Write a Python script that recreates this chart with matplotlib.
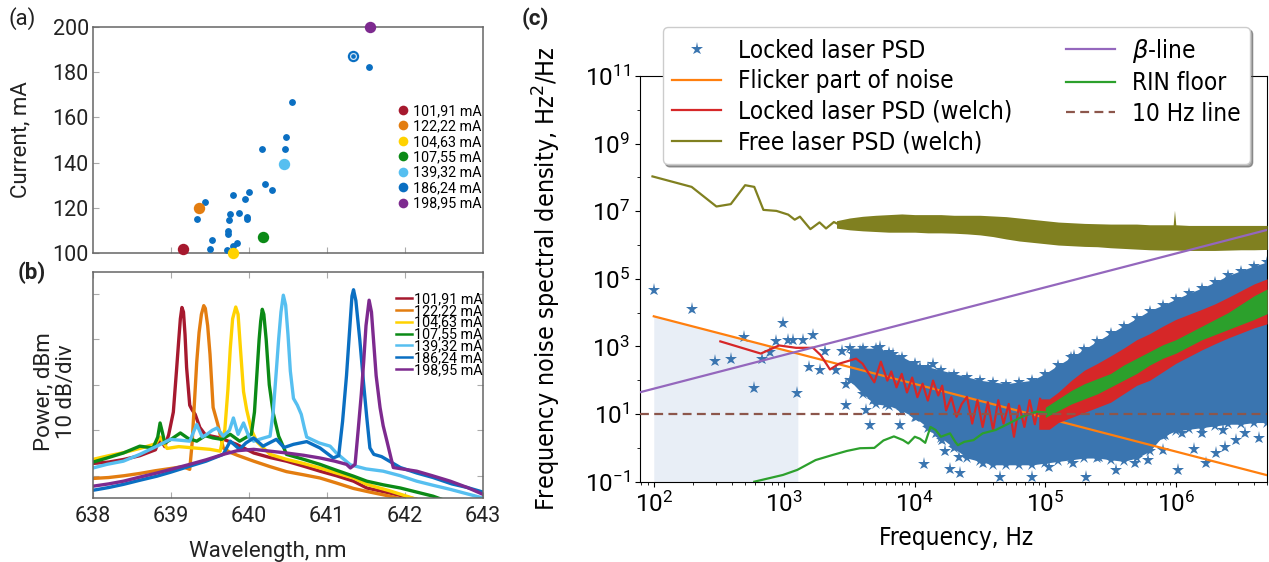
import numpy as np
import matplotlib
matplotlib.use("Agg")
import matplotlib.pyplot as plt

# ------------------------------------------------------------------ data (a)
labels = ['101,91 mA', '122,22 mA', '104,63 mA', '107,55 mA',
          '139,32 mA', '186,24 mA', '198,95 mA']
hl_wl = [639.15, 639.36, 639.80, 640.18, 640.45, 641.33, 641.55]
hl_I = [101.6, 119.9, 100.0, 107.3, 139.6, 187.2, 199.9]
small_wl = [641.54, 640.55, 640.47, 640.46, 640.17, 640.20, 640.29, 640.00,
            639.79, 639.95, 639.43, 639.33, 639.76, 639.87, 639.97, 639.97,
            639.74, 639.73, 639.73, 639.53, 639.84, 639.80, 639.50, 639.72]
small_I = [182.1, 166.7, 151.5, 146.0, 146.0, 130.5, 128.0, 126.8,
           125.7, 124.1, 122.5, 115.0, 117.4, 117.7, 116.1, 115.2,
           114.4, 109.8, 108.5, 105.7, 104.6, 103.0, 101.6, 101.3]

# ------------------------------------------------------------------ data (b)
red_wl = [638.00, 638.20, 638.40, 638.60, 638.80, 638.86, 638.92, 638.97, 639.03,
          639.07, 639.10, 639.12, 639.14, 639.16, 639.18, 639.20, 639.24, 639.27,
          639.31, 639.37, 639.44, 639.55, 639.63, 639.84, 640.06, 640.27, 640.48,
          640.70, 640.91, 641.12, 641.34, 641.51, 641.80, 642.15, 642.60, 643.00]
red_db = [-77.3, -77.0, -76.4, -75.6, -74.3, -71.8, -73.6, -71.0, -66.0,
          -57.0, -50.0, -45.5, -43.0, -44.0, -49.0, -56.2, -64.5, -65.5,
          -66.5, -69.4, -71.0, -71.4, -71.7, -73.1, -75.0, -76.0, -76.8,
          -77.9, -79.0, -80.0, -81.2, -82.7, -83.8, -85.2, -87.0, -88.0]
orange_wl = [638.00, 638.20, 638.40, 638.60, 638.80, 639.00, 639.15, 639.24, 639.27,
             639.30, 639.33, 639.36, 639.39, 639.42, 639.44, 639.47, 639.50, 639.54,
             639.60, 639.67, 639.75, 639.85, 640.06, 640.27, 640.48, 640.70, 640.91,
             641.12, 641.34, 641.55, 641.75, 642.00, 642.40, 643.00]
orange_db = [-80.6, -80.4, -80.0, -79.5, -78.9, -78.4, -78.0, -78.6, -73.0,
             -64.0, -55.0, -48.5, -44.5, -42.6, -43.2, -47.0, -53.3, -65.0,
             -68.7, -73.9, -74.8, -75.5, -76.8, -78.0, -79.1, -79.8, -80.5,
             -81.6, -82.8, -83.6, -84.3, -85.3, -87.0, -89.0]
yellow_wl = [638.00, 638.20, 638.40, 638.60, 638.80, 638.86, 638.95, 639.10, 639.30,
             639.50, 639.63, 639.69, 639.73, 639.76, 639.79, 639.83, 639.86, 639.89,
             639.93, 639.97, 640.03, 640.10, 640.27, 640.48, 640.70, 640.91, 641.12,
             641.34, 641.51, 641.80, 642.15, 642.60, 643.00]
yellow_db = [-76.4, -75.6, -74.9, -74.0, -73.0, -71.5, -74.0, -73.6, -73.9,
             -74.2, -74.6, -69.9, -61.0, -52.0, -45.5, -42.9, -44.5, -52.0,
             -61.5, -65.5, -69.9, -72.5, -75.3, -76.4, -77.3, -78.3, -79.4,
             -80.5, -81.9, -83.3, -85.2, -87.0, -88.5]
green_wl = [638.00, 638.18, 638.39, 638.60, 638.77, 638.83, 638.86, 638.89, 638.92,
            639.00, 639.12, 639.22, 639.33, 639.44, 639.54, 639.65, 639.76, 639.88,
            640.03, 640.07, 640.10, 640.13, 640.15, 640.17, 640.19, 640.22, 640.26,
            640.31, 640.38, 640.45, 640.48, 640.70, 640.91, 641.12, 641.34, 641.51,
            641.72, 641.94, 642.15, 642.36, 642.60, 643.00]
green_db = [-77.0, -76.1, -75.0, -73.5, -73.9, -71.5, -68.4, -70.5, -72.8,
            -72.0, -70.6, -71.8, -72.4, -71.2, -71.7, -72.0, -70.9, -72.4,
            -70.9, -66.0, -58.0, -50.0, -46.0, -43.4, -44.5, -50.0, -60.0,
            -66.2, -71.3, -74.0, -75.3, -76.4, -77.5, -78.8, -80.1, -81.2,
            -82.0, -82.7, -83.6, -84.5, -86.0, -88.0]
lblue_wl = [638.00, 638.18, 638.39, 638.60, 638.82, 638.99, 639.12, 639.24, 639.33,
            639.40, 639.46, 639.53, 639.59, 639.67, 639.75, 639.80, 639.86, 639.93,
            640.00, 640.06, 640.17, 640.27, 640.31, 640.35, 640.38, 640.41, 640.44,
            640.47, 640.50, 640.53, 640.57, 640.62, 640.67, 640.71, 640.74, 640.80,
            640.90, 641.04, 641.12, 641.30, 641.50, 641.72, 641.94, 642.15, 642.36,
            642.58, 642.80, 643.00]
lblue_db = [-78.3, -77.5, -76.8, -75.3, -73.5, -72.0, -72.2, -72.4, -68.7,
            -71.5, -70.9, -70.0, -69.5, -71.3, -70.0, -67.3, -70.9, -68.4,
            -71.5, -72.4, -71.8, -71.3, -66.0, -57.0, -50.0, -44.0, -40.3,
            -42.5, -49.0, -57.0, -63.0, -64.5, -66.5, -69.5, -71.5, -72.0,
            -72.8, -73.5, -75.0, -77.6, -78.5, -79.0, -80.0, -81.2, -82.1,
            -83.0, -84.0, -84.9]
blue_wl = [638.00, 638.20, 638.39, 638.60, 638.82, 639.00, 639.24, 639.45, 639.67,
           639.76, 639.88, 639.96, 640.06, 640.18, 640.35, 640.45, 640.57, 640.74,
           640.91, 641.08, 641.15, 641.20, 641.25, 641.29, 641.32, 641.34, 641.37,
           641.42, 641.47, 641.51, 641.55, 641.60, 641.70, 641.80, 641.94, 642.15,
           642.36, 642.60, 642.80, 643.00]
blue_db = [-83.2, -82.6, -81.9, -81.0, -80.1, -79.2, -77.9, -76.8, -75.3,
           -72.4, -74.2, -72.8, -71.7, -73.5, -72.0, -73.8, -73.1, -72.5,
           -73.9, -76.1, -75.6, -68.0, -58.0, -48.0, -40.5, -39.1, -41.5,
           -50.0, -59.9, -67.2, -73.9, -75.3, -75.8, -76.8, -78.2, -79.4,
           -80.4, -81.8, -82.6, -83.6]
purple_wl = [638.00, 638.20, 638.39, 638.60, 638.82, 639.00, 639.24, 639.45, 639.67,
             639.85, 640.06, 640.27, 640.48, 640.70, 640.91, 641.10, 641.25, 641.30,
             641.36, 641.40, 641.44, 641.47, 641.50, 641.54, 641.57, 641.60, 641.63,
             641.68, 641.72, 641.77, 641.85, 642.00, 642.15, 642.35, 642.58, 642.80,
             643.00]
purple_db = [-82.3, -81.8, -81.2, -80.3, -79.4, -78.6, -77.5, -76.5, -75.3,
             -74.5, -74.2, -74.6, -75.0, -75.5, -76.1, -76.8, -77.5, -78.3,
             -77.5, -69.9, -62.0, -55.0, -47.0, -41.4, -44.0, -51.0, -58.0,
             -65.0, -69.0, -72.5, -78.2, -78.6, -79.0, -80.0, -81.2, -82.6,
             -84.1]

# ------------------------------------------------------------------ data (c)  (log10 values)
star_logf = [2.00, 2.29, 2.47, 2.59, 2.69, 2.77, 2.83, 2.89, 2.94, 2.99, 3.03, 3.07,
             3.10, 3.14, 3.19, 3.22, 3.27, 3.31, 3.40, 3.44, 3.47, 3.47, 3.53, 3.58,
             3.63, 3.63, 3.66, 3.68, 3.68, 3.73, 3.73, 3.78, 3.78, 3.83, 3.83, 3.88,
             3.89, 3.91, 3.93, 3.96, 3.98, 4.01, 4.04, 4.06, 4.07, 4.09, 4.11, 4.14,
             4.16, 4.19, 4.21, 4.23, 4.26, 4.26, 4.27, 4.31, 4.34,
             4.35, 4.52, 4.65, 4.79, 4.90, 5.03, 5.21, 5.31, 5.41, 5.54, 5.69, 5.79,
             5.90, 6.02, 6.14, 6.23, 6.31, 6.38, 6.46, 6.53, 6.64, 6.05, 6.20, 5.92,
             6.36, 5.22]
star_logP = [4.68, 4.11, 2.57, 2.62, 3.28, 1.78, 2.62, 2.84, 3.16, 3.69, 3.20, 3.20,
             1.63, 3.20, 2.39, 3.33, 2.29, 2.88, 2.29, 2.88, 1.90, 1.28, 2.78, 2.88,
             2.78, 1.11, 0.67, 2.49, 1.41, 2.98, 1.60, 2.69, 1.31, 2.78, 1.51, 2.59,
             0.67, 1.21, 2.39, 1.41, 2.29, 0.92, 2.39, 1.11, -0.48, 2.20, 0.62, 2.49,
             0.43, 2.20, 0.23, -0.09, 2.10, 0.52, -0.63, 0.03, -0.26,
             -0.75, -0.46, -0.85, -0.36, -0.85, -0.56, -0.46, -0.85, -0.26, -0.66,
             -0.46, -0.36, -0.07, -0.66, -0.02, -0.46, -0.16, 0.03, 0.23, 0.43, 0.28,
             0.43, 0.43, 0.38, 0.53, 2.71]
cloud_logf = [3.5, 3.6, 3.7, 3.8, 3.9, 4.0, 4.1, 4.2, 4.3, 4.4, 4.5, 4.6, 4.7, 4.8,
              4.9, 5.0, 5.1, 5.2, 5.3, 5.4, 5.5, 5.6, 5.7, 5.8, 5.9, 6.0, 6.1, 6.2,
              6.3, 6.4, 6.5, 6.6, 6.7]
cloud_hi = [2.95, 2.95, 2.95, 2.85, 2.70, 2.50, 2.40, 2.30, 2.20, 2.10, 2.00, 1.95,
            1.90, 1.95, 2.00, 2.20, 2.45, 2.68, 2.92, 3.16, 3.39, 3.61, 3.83, 4.06,
            4.22, 4.40, 4.57, 4.73, 4.90, 5.10, 5.24, 5.38, 5.50]
cloud_lo = [2.00, 1.60, 1.30, 1.25, 1.10, 0.90, 0.60, 0.30, 0.00, -0.30, -0.40,
            -0.50, -0.50, -0.50, -0.50, -0.45, -0.40, -0.35, -0.30, -0.30, -0.35,
            -0.40, -0.30, -0.10, 0.35, 0.50, 0.55, 0.60, 0.65, 0.70, 0.70, 0.75, 0.75]

flicker_f = [1e2, 5e6]
flicker_P = [7.8e3, 0.156]
beta_f = [78, 5e6]
beta_P = [44, 2.8e6]
line10_f = [78, 5e6]
line10_P = [10, 10]
shade_f = [100, 1270]
shade_top = [7.8e3, 650]

welch_logf = [2.51, 2.82, 2.96, 3.09, 3.22, 3.28, 3.35, 3.42, 3.55, 3.60, 3.69, 3.74,
              3.79, 3.82, 3.86, 3.90, 3.94, 3.98, 4.02, 4.06, 4.10, 4.14, 4.18, 4.21,
              4.24, 4.28, 4.32, 4.36, 4.40, 4.44, 4.48, 4.52, 4.56, 4.60, 4.64, 4.68,
              4.72, 4.76, 4.80, 4.84, 4.88, 4.92, 4.96]
welch_logP = [3.15, 2.79, 3.03, 2.96, 2.96, 2.74, 2.32, 2.49, 2.64, 2.49, 1.94, 2.55,
              1.99, 2.26, 1.79, 2.19, 1.64, 2.08, 1.50, 1.90, 1.40, 1.99, 1.55, 1.84,
              1.11, 1.50, 0.92, 1.30, 1.51, 0.72, 1.41, 0.62, 1.35, 0.53, 1.41, 0.72,
              1.30, 0.33, 1.25, 0.62, 1.41, 0.70, 1.45]
welch_band_logf = [4.95, 5.03, 5.1, 5.2, 5.3, 5.4, 5.5, 5.6, 5.7, 5.8, 5.9, 6.0, 6.1,
                   6.2, 6.3, 6.4, 6.5, 6.6, 6.7]
welch_band_hi = [1.45, 1.45, 1.65, 2.00, 2.30, 2.50, 2.72, 2.95, 3.20, 3.38, 3.60,
                 3.80, 3.95, 4.10, 4.26, 4.45, 4.65, 4.85, 5.00]
welch_band_lo = [0.55, 0.55, 0.75, 0.90, 1.05, 1.20, 1.35, 1.60, 1.85, 2.00, 2.25,
                 2.50, 2.70, 2.90, 3.08, 3.25, 3.40, 3.55, 3.67]

rin_logf = [2.77, 2.99, 3.10, 3.24, 3.37, 3.48, 3.58, 3.69, 3.76, 3.84, 3.91, 3.95,
            4.00, 4.04, 4.08, 4.12, 4.16, 4.20, 4.27, 4.31, 4.33, 4.38, 4.45, 4.52,
            4.62, 4.72, 4.82, 4.93, 5.00]
rin_logP = [-1.00, -0.80, -0.65, -0.36, -0.21, -0.09, -0.01, 0.00, 0.22, 0.34, 0.23,
            0.13, 0.33, 0.27, 0.15, 0.62, 0.53, 0.33, 0.43, 0.18, 0.08, 0.18, 0.23,
            0.43, 0.53, 0.72, 0.92, 1.07, 1.05]
rin_band_logf = [5.0, 5.1, 5.2, 5.3, 5.4, 5.5, 5.6, 5.7, 5.8, 5.9, 6.0, 6.1, 6.2, 6.3,
                 6.4, 6.5, 6.6, 6.7]
rin_band_hi = [1.20, 1.45, 1.70, 1.90, 2.05, 2.20, 2.45, 2.65, 2.85, 3.05, 3.20, 3.40,
               3.60, 3.80, 4.00, 4.25, 4.50, 4.70]
rin_band_lo = [0.90, 1.10, 1.30, 1.45, 1.60, 1.80, 2.00, 2.20, 2.45, 2.65, 2.80, 3.00,
               3.20, 3.35, 3.50, 3.65, 3.80, 3.97]

free_logf = [1.99, 2.29, 2.48, 2.59, 2.70, 2.77, 2.84, 2.94, 3.03, 3.08, 3.12, 3.20,
             3.27, 3.32, 3.38, 3.45, 3.50]
free_logP = [8.03, 7.72, 7.14, 7.21, 7.77, 7.72, 7.04, 7.01, 6.90, 6.75, 6.84, 6.47,
             6.67, 6.49, 6.68, 6.55, 6.65]
free_band_logf = [3.4, 3.5, 3.6, 3.7, 3.8, 3.9, 4.0, 4.1, 4.2, 4.3, 4.4, 4.5, 4.6, 4.7,
                  4.8, 4.9, 5.0, 5.1, 5.2, 5.3, 5.4, 5.5, 5.6, 5.7, 5.8, 5.9, 5.98,
                  5.99, 6.0, 6.1, 6.2, 6.3, 6.4, 6.5, 6.6, 6.7]
free_band_hi = [6.72, 6.80, 6.85, 6.88, 6.90, 6.92, 6.90, 6.90, 6.90, 6.88, 6.88, 6.88,
                6.86, 6.84, 6.80, 6.76, 6.72, 6.68, 6.66, 6.64, 6.63, 6.62, 6.62, 6.62,
                6.60, 6.60, 6.60, 7.03, 6.60, 6.58, 6.58, 6.58, 6.58, 6.58, 6.58, 6.58]
free_band_lo = [6.50, 6.45, 6.42, 6.40, 6.38, 6.38, 6.38, 6.36, 6.36, 6.35, 6.33, 6.30,
                6.25, 6.18, 6.12, 6.08, 6.04, 6.00, 5.98, 5.96, 5.95, 5.92, 5.90, 5.88,
                5.86, 5.85, 5.85, 5.85, 5.85, 5.84, 5.84, 5.84, 5.85, 5.86, 5.86, 5.87]

# ------------------------------------------------------------------ styles
spec_colors = ['#a6192e', '#e37d10', '#ffd200', '#0b8a16', '#56bff0', '#0a6fc2', '#7d2a8f']
RB = 'Roboto'
DV = 'DejaVu Sans'
BLUE = '#3a75b0'
plt.rcParams['font.family'] = RB

W, H = 1269, 562
fig = plt.figure(figsize=(W / 100, H / 100), dpi=100)


def rect(x0, y0, x1, y1):
    return [x0 / W, 1 - y1 / H, (x1 - x0) / W, (y1 - y0) / H]


ax_a = fig.add_axes(rect(93, 27, 483, 253))
ax_b = fig.add_axes(rect(93, 272, 483, 498))
ax_c = fig.add_axes(rect(639.7, 76, 1267, 481.7))

# ------------------------------------------------------------------ panel (a)
ax_a.plot(small_wl, small_I, 'o', ms=3.9, color='#0a6fc2', zorder=3, clip_on=False)
for lab, w, i, c in zip(labels, hl_wl, hl_I, spec_colors):
    ax_a.plot(w, i, 'o', ms=8.2, color=c, label=lab, zorder=4, clip_on=False, mew=0)
ax_a.plot(hl_wl[5], hl_I[5], 'o', ms=4.2, color=spec_colors[5], mec='#cfe3f5',
          mew=0.9, zorder=5)
ax_a.set_xlim(638, 643)
ax_a.set_ylim(100, 200)
ax_a.set_yticks([100, 120, 140, 160, 180, 200])
ax_a.set_xticks([639, 640, 641, 642])
ax_a.set_xticklabels([])
ax_a.tick_params(direction='in', length=4, color='#aaaaaa', labelsize=15.5,
                 labelcolor='#222222', pad=3)
ax_a.set_ylabel('Current, mA', fontsize=16, color='#222222')
ax_a.yaxis.set_label_coords(-0.157, 0.5)
for s in ax_a.spines.values():
    s.set_color('#666666')
    s.set_linewidth(1.1)
ax_a.legend(loc='upper left', bbox_to_anchor=(398 / W, 1 - 104 / H),
            bbox_transform=fig.transFigure, frameon=False,
            prop={'family': RB, 'size': 10.3}, handlelength=0.7, handletextpad=0.35,
            borderpad=0, borderaxespad=0, labelspacing=0.1, markerscale=0.85,
            numpoints=1)

# ------------------------------------------------------------------ panel (b)
spectra = [(red_wl, red_db), (orange_wl, orange_db), (yellow_wl, yellow_db),
           (green_wl, green_db), (lblue_wl, lblue_db), (blue_wl, blue_db),
           (purple_wl, purple_db)]
for (w, d), c, lab in zip(spectra, spec_colors, labels):
    ax_b.plot(w, d, color=c, lw=2.4, label=lab, solid_joinstyle='round')
ax_b.set_xlim(638, 643)
ax_b.set_ylim(-84.9, -35.2)
ax_b.set_xticks([638, 639, 640, 641, 642, 643])
ax_b.set_yticks([-80, -70, -60, -50, -40])
ax_b.set_yticklabels([])
ax_b.tick_params(direction='in', length=4, color='#aaaaaa', labelsize=15.5,
                 labelcolor='#222222', top=True, right=True, pad=6)
ax_b.set_xlabel('Wavelength, nm', fontsize=16, color='#222222')
ax_b.xaxis.set_label_coords(0.449, -0.19)
ax_b.set_ylabel('Power, dBm\n10 dB/div', fontsize=16, color='#222222',
                linespacing=1.15)
ax_b.yaxis.set_label_coords(-0.04, 0.47)
for s in ax_b.spines.values():
    s.set_color('#666666')
    s.set_linewidth(1.1)
leg_b = ax_b.legend(loc='upper left', bbox_to_anchor=(396 / W, 1 - 292 / H),
                    bbox_transform=fig.transFigure, frameon=False,
                    prop={'family': RB, 'size': 10.3}, handlelength=1.15,
                    handletextpad=0.1, borderpad=0, borderaxespad=0,
                    labelspacing=-0.15)
for ln in leg_b.get_lines():
    ln.set_linewidth(1.8)

# ------------------------------------------------------------------ panel (c)
p = lambda a: 10 ** np.asarray(a)
ax_c.fill_between(shade_f, [0.1, 0.1], shade_top, color='#e8eef6', lw=0, zorder=0.5)
ax_c.fill_between(p(cloud_logf), p(cloud_lo), p(cloud_hi), color=BLUE, lw=0, zorder=1.5)
ax_c.plot(p(cloud_logf), p(cloud_hi), '*', ms=9, color=BLUE, mew=0, zorder=1.6)
ax_c.plot(p(cloud_logf), p(cloud_lo), '*', ms=9, color=BLUE, mew=0, zorder=1.6)
ax_c.plot(p(star_logf), p(star_logP), '*', ms=9.5, color=BLUE, mew=0, zorder=1.7,
          ls='none', label='Locked laser PSD')
ax_c.plot(flicker_f, flicker_P, color='#ff7f0e', lw=1.6, zorder=3,
          label='Flicker part of noise')
ax_c.fill_between(p(welch_band_logf), p(welch_band_lo), p(welch_band_hi),
                  color='#d62728', lw=0, zorder=3)
ax_c.plot(p(welch_logf), p(welch_logP), color='#d62728', lw=1.6, zorder=3,
          label='Locked laser PSD (welch)')
ax_c.fill_between(p(free_band_logf), p(free_band_lo), p(free_band_hi),
                  color='#808020', lw=0, zorder=3)
ax_c.plot(p(free_logf), p(free_logP), color='#808020', lw=1.6, zorder=3,
          label='Free laser PSD (welch)')
ax_c.plot(beta_f, beta_P, color='#9467bd', lw=1.6, zorder=3,
          label=r'$\beta$-line')
ax_c.fill_between(p(rin_band_logf), p(rin_band_lo), p(rin_band_hi),
                  color='#2ca02c', lw=0, zorder=3.1)
ax_c.plot(p(rin_logf), p(rin_logP), color='#2ca02c', lw=1.6, zorder=3.1,
          label='RIN floor')
ax_c.plot(line10_f, line10_P, color='#8c564b', lw=1.6, ls='--', dashes=(4, 2.4),
          zorder=3.2, label='10 Hz line')
ax_c.set_xscale('log')
ax_c.set_yscale('log')
ax_c.set_xlim(78, 5e6)
ax_c.set_ylim(1e-1, 1e11)
ax_c.set_xticks([1e2, 1e3, 1e4, 1e5, 1e6])
ax_c.set_yticks([1e-1, 1e1, 1e3, 1e5, 1e7, 1e9, 1e11])
ax_c.set_yticks([1e0, 1e2, 1e4, 1e6, 1e8, 1e10], minor=True)
ax_c.set_yticklabels([], minor=True)
ax_c.tick_params(labelsize=17.5)
cond = {'family': DV, 'stretch': 'condensed'}
ax_c.set_xlabel('Frequency, Hz', fontsize=17.5, **cond)
ax_c.xaxis.set_label_coords(0.504, -0.108)
ax_c.set_ylabel(r'Frequency noise spectral density, Hz$^2$/Hz', fontsize=18, **cond)
ax_c.yaxis.set_label_coords(-0.122, 0.5)
ax_c.legend(loc='upper left', bbox_to_anchor=(662.7 / W, 1 - 27 / H),
            bbox_transform=fig.transFigure, ncol=2,
            prop={'family': DV, 'size': 17.5, 'stretch': 'condensed'},
            shadow=True, framealpha=1, borderaxespad=0, handlelength=2.0,
            handletextpad=0.7, numpoints=1, columnspacing=2.2, labelspacing=0.27)

# ------------------------------------------------------------------ panel labels
fig.text(8 / W, 1 - 19 / H, '(a)', fontsize=16, va='center', ha='left', color='#222222')
fig.text(18 / W, 1 - 273 / H, '(b)', fontsize=16, va='center', ha='left',
         fontweight='bold', color='#222222')
fig.text(522 / W, 1 - 19 / H, '(c)', fontsize=16, va='center', ha='left',
         fontweight='bold', color='#222222')

fig.savefig('out.png', dpi=100)
